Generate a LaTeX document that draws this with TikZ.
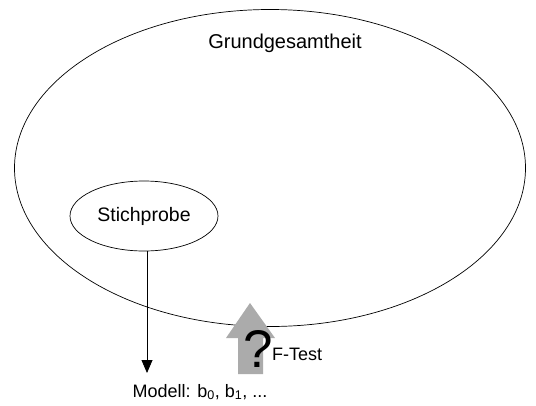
\documentclass[tikz,border=0pt]{standalone}
\usepackage{fontspec}
\setmainfont{Liberation Sans}
\usetikzlibrary{shapes.geometric}
\usetikzlibrary{arrows.meta}
\usetikzlibrary{positioning}

\begin{document}
\begin{tikzpicture}[x=1pt, y=-1pt, every node/.style={inner sep=0pt, font=\fontsize{18}{21}\selectfont}]

        \useasboundingbox (0,0) rectangle (536,405);

        % Grundgesamtheit und Stichprobe
        \node[draw, ellipse, line width=0.7pt, minimum width=511, minimum height=317] (gesamt) at (270,168) {};
        \node[anchor=base, font=\fontsize{20}{24}\selectfont] (gesamtlabel) at (285,48) {Grundgesamtheit};
        \node[draw, ellipse, line width=0.7pt, minimum width=148, minimum height=70, font=\fontsize{19.5}{23}\selectfont] (stich) at (144,216) {Stichprobe};

        \node[anchor=base] (modell) at (200,397) {Modell: b\textsubscript{0}, b\textsubscript{1}, ...};
        \coordinate (ziel) at (147,373);

        \draw[line width=0.8pt, -{Triangle[width=11pt, length=13pt]}, shorten >=0pt] (stich.south -| ziel) -- (ziel);

        % grauer Pfeil mit F-Test
        \fill[black!33] (238,374) -- (238,338) -- (226,338) -- (250,303) -- (275,338) -- (263,338) -- (263,374) -- cycle;
        \node[anchor=base] (frage) at (258,367) {\fontsize{53}{53}\selectfont ?};
        \node[anchor=base west] (ftest) at (272,360) {F-Test};

      \end{tikzpicture}
\end{document}
